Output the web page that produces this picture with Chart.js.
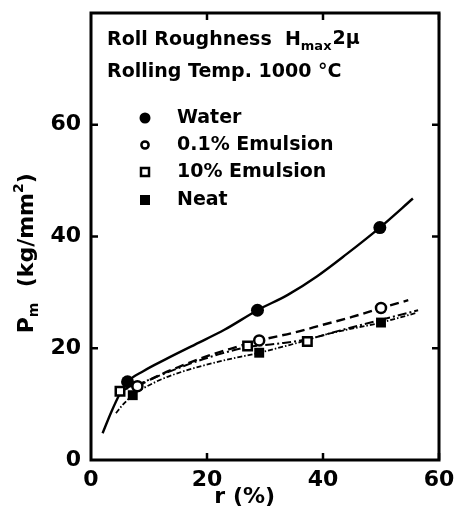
<!DOCTYPE html>
<html>
<head>
<meta charset="utf-8">
<script src="https://cdn.jsdelivr.net/npm/chart.js@4"></script>
<style>
  html, body { margin: 0; padding: 0; background: #fff; }
  #wrap { width: 454px; height: 510px; position: relative; }
</style>
</head>
<body>
<div id="wrap"><canvas id="c" width="454" height="510"></canvas></div>
<script>
// ---- data ----
const xTicks = [0, 20, 40, 60];
const yTicks = [0, 20, 40, 60];

const seriesNames = ["Water", "0.1% Emulsion", "10% Emulsion", "Neat"];

const waterR  = [6.3, 28.7, 49.8];
const waterP  = [14.0, 26.8, 41.6];
const emul01R = [8.0, 29.0, 50.0];
const emul01P = [13.2, 21.4, 27.2];
const emul10R = [5.0, 27.0, 37.3];
const emul10P = [12.3, 20.4, 21.2];
const neatR   = [7.2, 29.0, 50.0];
const neatP   = [11.6, 19.2, 24.6];

// fitted curves as drawn in the figure
const waterCurveR  = [2, 3.5, 5, 6.3, 9, 13, 18, 23, 28.7, 34, 39, 44, 49.8, 55.5];
const waterCurveP  = [4.8, 8.6, 11.9, 14.0, 15.9, 18.1, 20.7, 23.3, 26.8, 29.6, 32.9, 36.8, 41.6, 46.8];
const emul01CurveR = [8, 11, 15, 20, 25, 29, 35, 40, 45, 50, 54.7];
const emul01CurveP = [13.2, 14.8, 16.6, 18.6, 20.2, 21.4, 22.8, 24.2, 25.6, 27.2, 28.6];
const emul10CurveR = [5, 8, 12, 17, 22, 27, 32, 37.3, 43, 50, 56.4];
const emul10CurveP = [12.3, 13.5, 15.2, 17.2, 18.9, 20.2, 20.8, 21.6, 23.2, 25.1, 26.8];
const neatCurveR   = [4.3, 5.5, 7.2, 11, 16, 22, 29, 35, 41, 50, 56];
const neatCurveP   = [8.4, 9.9, 11.6, 13.9, 15.9, 17.6, 19.2, 20.8, 22.6, 24.6, 26.3];

function pts(xs, ys) { return xs.map((x, i) => ({ x: x, y: ys[i] })); }

const FONT = "'DejaVu Sans', 'Liberation Sans', sans-serif";

const curveBase = { showLine: true, pointRadius: 0, borderColor: '#000', borderWidth: 2.4, tension: 0.4, cubicInterpolationMode: 'monotone', fill: false, order: 2 };
const markBase = { showLine: false, borderColor: '#000', order: 1 };

const datasets = [
  Object.assign({}, curveBase, { label: seriesNames[0] + ' curve', data: pts(waterCurveR, waterCurveP), borderDash: [] }),
  Object.assign({}, curveBase, { label: seriesNames[1] + ' curve', data: pts(emul01CurveR, emul01CurveP), borderDash: [9, 5] }),
  Object.assign({}, curveBase, { label: seriesNames[2] + ' curve', data: pts(emul10CurveR, emul10CurveP), borderDash: [9, 3, 2, 3], borderWidth: 2 }),
  Object.assign({}, curveBase, { label: seriesNames[3] + ' curve', data: pts(neatCurveR, neatCurveP), borderDash: [5, 2, 1.5, 2], borderWidth: 1.8 }),
  Object.assign({}, markBase, { label: seriesNames[0], data: pts(waterR, waterP), pointStyle: 'circle', pointRadius: 6.5, backgroundColor: '#000', borderWidth: 0 }),
  Object.assign({}, markBase, { label: seriesNames[1], data: pts(emul01R, emul01P), pointStyle: 'circle', pointRadius: 5, backgroundColor: '#fff', borderWidth: 2.5 }),
  Object.assign({}, markBase, { label: seriesNames[2], data: pts(emul10R, emul10P), pointStyle: 'rect', pointRadius: 6, backgroundColor: '#fff', borderWidth: 2.5 }),
  Object.assign({}, markBase, { label: seriesNames[3], data: pts(neatR, neatP), pointStyle: 'rect', pointRadius: 7, backgroundColor: '#000', borderWidth: 0 })
];

function drawMarker(ctx, style, x, y) {
  ctx.save();
  ctx.strokeStyle = '#000'; ctx.fillStyle = '#000'; ctx.lineWidth = 2.5;
  if (style === 'fc') { ctx.beginPath(); ctx.arc(x, y, 5.5, 0, Math.PI * 2); ctx.fill(); }
  else if (style === 'oc') { ctx.beginPath(); ctx.arc(x, y, 3.6, 0, Math.PI * 2); ctx.stroke(); }
  else if (style === 'os') { ctx.strokeRect(x - 4, y - 4, 8, 8); }
  else if (style === 'fs') { ctx.fillRect(x - 5, y - 5, 10, 10); }
  ctx.restore();
}

const decor = {
  id: 'decor',
  afterDraw(chart) {
    const ctx = chart.ctx;
    const a = chart.chartArea;
    const xs = chart.scales.x, ys = chart.scales.y;
    ctx.save();
    // frame
    ctx.strokeStyle = '#000'; ctx.lineWidth = 3;
    ctx.strokeRect(a.left, a.top, a.right - a.left, a.bottom - a.top);
    // inward ticks
    ctx.lineWidth = 2.5;
    xTicks.forEach(v => {
      if (v === 0) return;
      const px = xs.getPixelForValue(v);
      ctx.beginPath(); ctx.moveTo(px, a.bottom); ctx.lineTo(px, a.bottom - 7); ctx.stroke();
      ctx.beginPath(); ctx.moveTo(px, a.top); ctx.lineTo(px, a.top + 7); ctx.stroke();
    });
    yTicks.forEach(v => {
      if (v === 0) return;
      const py = ys.getPixelForValue(v);
      ctx.beginPath(); ctx.moveTo(a.left, py); ctx.lineTo(a.left + 7, py); ctx.stroke();
      ctx.beginPath(); ctx.moveTo(a.right, py); ctx.lineTo(a.right - 7, py); ctx.stroke();
    });

    // annotation text
    ctx.fillStyle = '#000';
    ctx.textBaseline = 'middle';
    ctx.textAlign = 'left';
    const big = 'bold 19px ' + FONT;
    const small = 'bold 13px ' + FONT;
    let x = a.left + 16;
    ctx.font = big;
    const t1 = 'Roll Roughness  H';
    ctx.fillText(t1, x, 40);
    x += ctx.measureText(t1).width;
    ctx.font = small;
    ctx.fillText('max', x, 47);
    x += ctx.measureText('max').width + 1;
    ctx.font = big;
    ctx.fillText('2\u03BC', x, 39);
    ctx.fillText('Rolling Temp. 1000 \u00B0C', a.left + 16, 72);

    // legend
    const styles = ['fc', 'oc', 'os', 'fs'];
    const rowsY = [118, 145, 172, 200];
    seriesNames.forEach((n, i) => {
      drawMarker(ctx, styles[i], a.left + 54, rowsY[i]);
      ctx.font = big;
      ctx.fillText(n, a.left + 86, rowsY[i]);
    });

    // x axis title
    ctx.font = 'bold 22px ' + FONT;
    ctx.textAlign = 'center';
    ctx.fillText('r (%)', xs.getPixelForValue(26.5), 497);

    // y axis title (rotated)
    ctx.save();
    ctx.translate(27, ys.getPixelForValue(37));
    ctx.rotate(-Math.PI / 2);
    const yb = 'bold 22px ' + FONT, ysm = 'bold 14px ' + FONT;
    const parts = [
      { t: 'P', f: yb, dy: 0 },
      { t: 'm', f: ysm, dy: 7 },
      { t: '  (kg/mm', f: yb, dy: 0 },
      { t: '2', f: ysm, dy: -8 },
      { t: ')', f: yb, dy: 0 }
    ];
    let total = 0;
    parts.forEach(p => { ctx.font = p.f; p.w = ctx.measureText(p.t).width; total += p.w; });
    let cx = -total / 2;
    ctx.textAlign = 'left';
    parts.forEach(p => { ctx.font = p.f; ctx.fillText(p.t, cx, p.dy); cx += p.w; });
    ctx.restore();

    ctx.restore();
  }
};

new Chart(document.getElementById('c'), {
  type: 'scatter',
  data: { datasets: datasets },
  options: {
    responsive: false,
    animation: false,
    devicePixelRatio: 1,
    layout: { padding: { top: 13, right: 15, left: 0, bottom: 0 } },
    plugins: { legend: { display: false }, tooltip: { enabled: false }, title: { display: false } },
    scales: {
      x: {
        type: 'linear', min: 0, max: 60,
        afterBuildTicks: s => { s.ticks = xTicks.map(v => ({ value: v })); },
        afterFit: s => { s.height = 50; s.paddingLeft = 0; s.paddingRight = 0; },
        grid: { display: false, drawTicks: false },
        border: { display: false },
        ticks: { color: '#000', padding: 7, font: { family: FONT, size: 22, weight: 'bold' }, maxRotation: 0 }
      },
      y: {
        type: 'linear', min: 0, max: 80,
        afterBuildTicks: s => { s.ticks = yTicks.map(v => ({ value: v })); },
        afterFit: s => { s.width = 91; s.paddingTop = 0; s.paddingBottom = 0; },
        grid: { display: false, drawTicks: false },
        border: { display: false },
        ticks: { color: '#000', padding: 10, font: { family: FONT, size: 22, weight: 'bold' } }
      }
    }
  },
  plugins: [decor]
});
</script>
</body>
</html>
